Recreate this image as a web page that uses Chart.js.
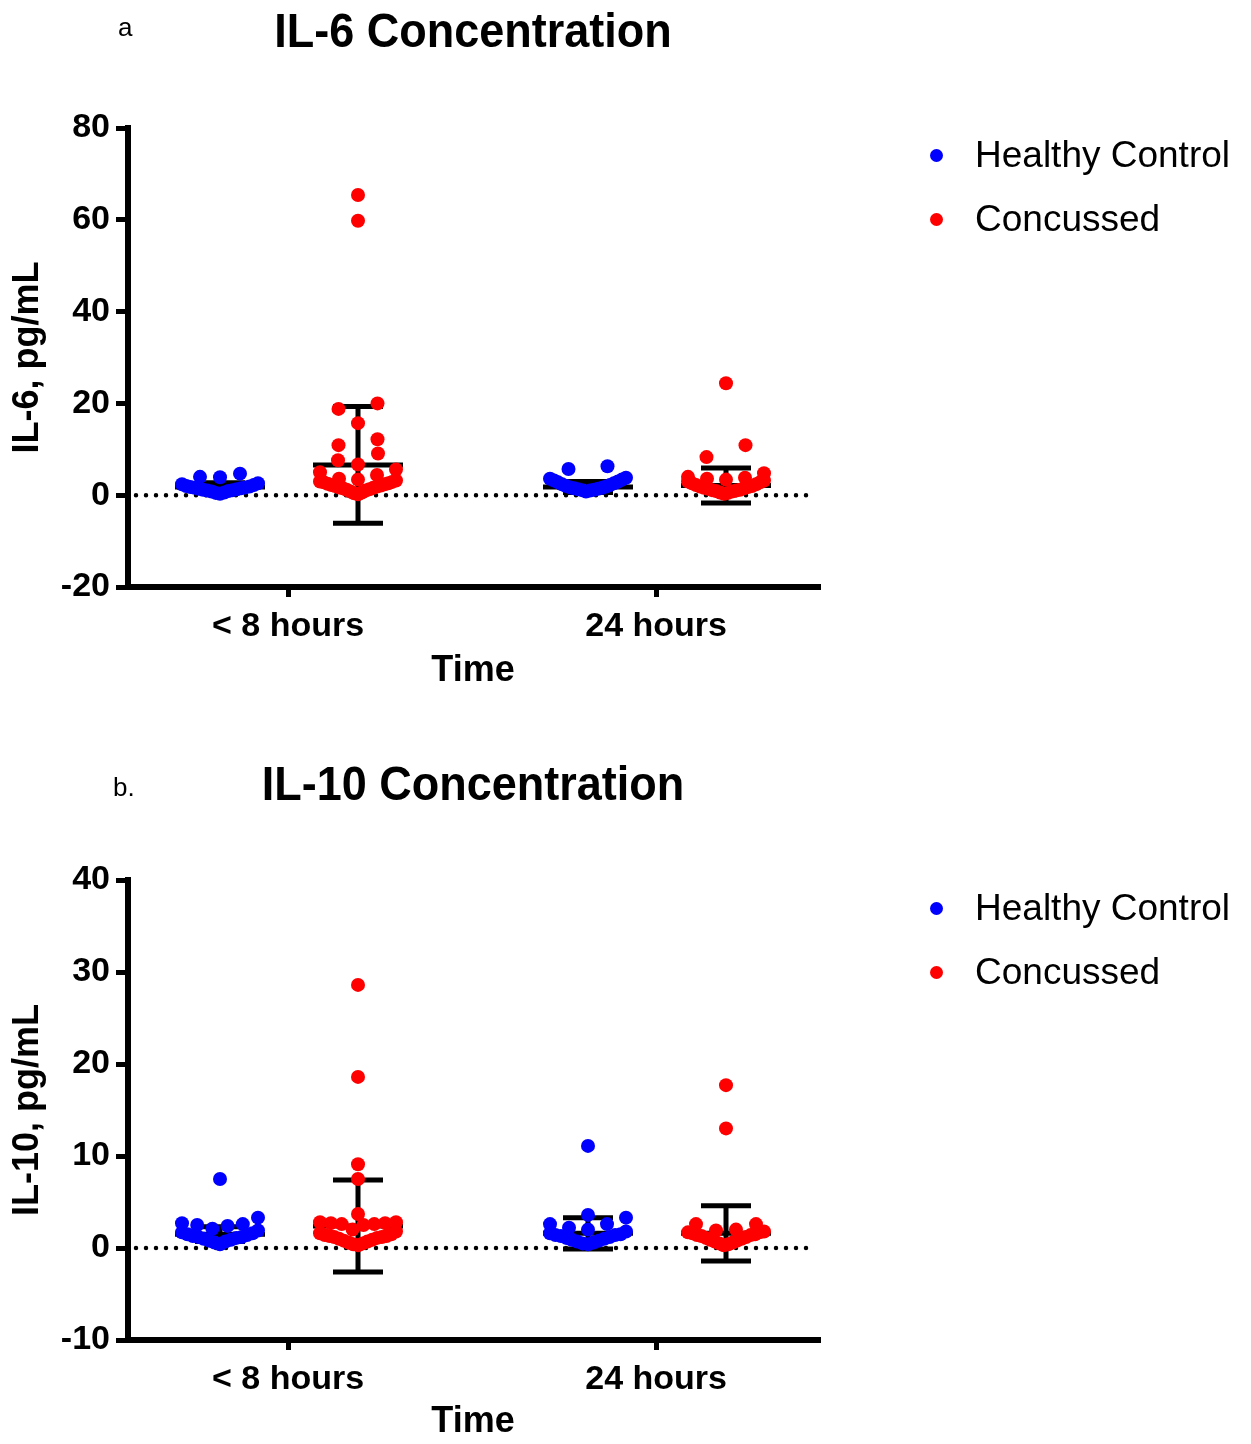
<!DOCTYPE html>
<html>
<head>
<meta charset="utf-8">
<title>IL-6 and IL-10 Concentration</title>
<script src="https://cdn.jsdelivr.net/npm/chart.js@4.4.1/dist/chart.umd.min.js"></script>
<style>
  body { margin: 0; background: #fff; font-family: "Liberation Sans", Arial, sans-serif; color: #000; }
  #page { position: relative; width: 1251px; height: 1444px; overflow: hidden; }
  .panel { position: absolute; left: 0; width: 1251px; }
  .panel canvas { position: absolute; left: 0; top: 0; }
  .letter { position: absolute; font-size: 26px; line-height: 1; transform: translateY(-50%); }
  .title { position: absolute; left: 473px; font-size: 45px; font-weight: bold; line-height: 1;
           transform: translate(-50%, -50%) scaleY(1.08); white-space: nowrap; }
  .legend { position: absolute; left: 930px; font-size: 37px; }
  .legend div { height: 64px; display: flex; align-items: center; white-space: nowrap; }
  .legend .dot { width: 13px; height: 13px; border-radius: 50%; margin-right: 32px; flex: none; }
</style>
</head>
<body>
<div id="page">
  <div class="panel" style="top:0;height:693px"><canvas id="il6Chart" width="1251" height="693"></canvas></div>
  <div class="panel" style="top:722px;height:722px"><canvas id="il10Chart" width="1251" height="722"></canvas></div>

  <div class="letter" style="left:118px;top:27px">a</div>
  <div class="title" style="top:30px">IL-6 Concentration</div>
  <div class="legend" style="top:123px">
    <div><span class="dot" style="background:#0000ff"></span>Healthy Control</div>
    <div><span class="dot" style="background:#ff0000"></span>Concussed</div>
  </div>

  <div class="letter" style="left:113px;top:787px">b.</div>
  <div class="title" style="top:783px">IL-10 Concentration</div>
  <div class="legend" style="top:876px">
    <div><span class="dot" style="background:#0000ff"></span>Healthy Control</div>
    <div><span class="dot" style="background:#ff0000"></span>Concussed</div>
  </div>
</div>

<script>
const timeLabels = ['< 8 hours', '24 hours'];
const seriesNames = ['Healthy Control', 'Concussed'];

// IL-6, pg/mL
const il6HealthyEarly = [4.7, 4.0, 3.9, 2.6, 2.4, 2.2, 2.0, 1.9, 1.8, 1.7, 1.6, 1.5, 1.4, 1.3, 1.2, 1.1, 1.0, 0.9, 0.8, 0.6, 0.5, 0.3];
const il6HealthyLate = [6.3, 5.7, 3.8, 3.6, 3.4, 3.2, 3.0, 2.8, 2.6, 2.4, 2.2, 2.0, 1.9, 1.7, 1.6, 1.5, 1.4, 1.3, 1.2, 1.1, 1.0, 0.8];
const il6ConcussedEarly = [65.4, 59.8, 20.0, 18.8, 15.7, 12.2, 10.9, 9.1, 7.6, 6.7, 5.6, 5.0, 4.4,
  3.6, 3.4, 3.2, 3.0, 2.9, 2.8, 2.6, 2.5, 2.4, 2.2, 2.1, 2.0, 1.9, 1.7, 1.6, 1.5, 1.3, 1.2, 1.0, 0.8, 0.6, 0.4, 0.2];
const il6ConcussedLate = [24.4, 10.9, 8.3, 4.8, 4.0, 3.8, 3.6, 3.4, 3.2, 3.0, 2.8, 2.6, 2.4, 2.2, 2.0, 1.9,
  1.8, 1.6, 1.5, 1.4, 1.2, 1.1, 1.0, 0.9, 0.8, 0.6, 0.5, 0.3];
const il6HealthyMean = [1.8, 1.8];
const il6HealthySd = [0.9, 1.2];
const il6ConcussedMean = [6.6, 2.1];
const il6ConcussedSd = [12.7, 3.8];

// IL-10, pg/mL
const il10HealthyEarly = [7.5, 3.3, 2.7, 2.6, 2.5, 2.4, 2.1, 1.9, 1.7, 1.6, 1.5, 1.4, 1.3, 1.2, 1.2, 1.1, 1.0, 0.9, 0.8, 0.7, 0.6, 0.4];
const il10HealthyLate = [11.1, 3.6, 3.3, 2.6, 2.6, 2.2, 2.0, 1.8, 1.6, 1.5, 1.4, 1.4, 1.3, 1.2, 1.1, 1.0, 0.9, 0.8, 0.7, 0.6, 0.5, 0.4];
const il10ConcussedEarly = [28.6, 18.6, 9.1, 7.5, 3.7, 2.8, 2.8, 2.7, 2.7, 2.6, 2.6, 2.5, 2.0, 1.8, 1.6, 1.5,
  1.4, 1.3, 1.3, 1.2, 1.2, 1.1, 1.0, 0.9, 0.8, 0.7, 0.6, 0.5, 0.4, 0.3];
const il10ConcussedLate = [17.7, 13.0, 2.6, 2.6, 2.0, 1.9, 1.8, 1.7, 1.7, 1.6, 1.5, 1.4, 1.4, 1.3, 1.2, 1.1,
  1.0, 0.9, 0.8, 0.7, 0.6, 0.5, 0.4, 0.3];
const il10HealthyMean = [1.5, 1.6];
const il10HealthySd = [0.8, 1.7];
const il10ConcussedMean = [2.4, 1.6];
const il10ConcussedSd = [5.0, 3.0];

// y axis ranges
const il6Ticks = [-20, 80, 20];
const il10Ticks = [-10, 40, 10];

Chart.defaults.font.family = '"Liberation Sans", Arial, sans-serif';
Chart.defaults.color = '#000';

// Dot-plot layout: values are cut into bands one dot high (starting from the
// lowest); each band is spread sideways, lowest value in the middle and the
// rest alternating outwards. Crowded bands get squeezed into maxWidth,
// lone pairs sit well apart.
function bandOffsets(py, band, maxWidth) {
  const order = py.map((p, i) => i).sort((a, b) => py[b] - py[a]);
  const out = new Array(py.length).fill(0);
  let start = 0;
  while (start < order.length) {
    const base = py[order[start]];
    let end = start;
    while (end < order.length && base - py[order[end]] < band) end++;
    const n = end - start;
    const step = n === 2 ? 39 : n > 2 ? Math.min(20, maxWidth / (n - 1)) : 0;
    for (let j = 0; j < n; j++) {
      let slot;
      if (n % 2) slot = j === 0 ? 0 : (j % 2 ? -1 : 1) * Math.ceil(j / 2);
      else slot = (j % 2 ? 1 : -1) * (Math.floor(j / 2) + 0.5);
      out[order[start + j]] = slot * step;
    }
    start = end;
  }
  return out;
}

function buildPanel(canvasId, cfg) {
  const series = [
    { label: seriesNames[0], color: '#0000ff', values: cfg.healthy, mean: cfg.healthyMean, sd: cfg.healthySd, shift: -0.185 },
    { label: seriesNames[1], color: '#ff0000', values: cfg.concussed, mean: cfg.concussedMean, sd: cfg.concussedSd, shift: 0.19 }
  ];

  const datasets = series.map(s => ({
    label: s.label,
    data: s.values.flatMap((vals, t) => vals.map(v => ({ x: t + s.shift, y: v }))),
    backgroundColor: s.color,
    borderWidth: 0,
    pointRadius: 7,
    pointHoverRadius: 7
  }));

  // dotted line at zero, then mean +/- SD bars, both under the dots
  const underlay = {
    id: 'underlay',
    beforeDatasetsDraw(chart) {
      const { ctx, chartArea, scales: { x, y } } = chart;
      ctx.save();
      ctx.strokeStyle = '#000';
      ctx.lineCap = 'round';
      ctx.lineWidth = 4.5;
      ctx.setLineDash([0, 10]);
      const y0 = y.getPixelForValue(0);
      ctx.beginPath();
      ctx.moveTo(chartArea.left + 8, y0);
      ctx.lineTo(chartArea.right - 4, y0);
      ctx.stroke();

      ctx.setLineDash([]);
      ctx.lineCap = 'butt';
      ctx.lineWidth = 5;
      series.forEach(s => {
        s.mean.forEach((m, t) => {
          const cx = x.getPixelForValue(t + s.shift);
          const ym = y.getPixelForValue(m);
          const yt = y.getPixelForValue(m + s.sd[t]);
          const yb = y.getPixelForValue(m - s.sd[t]);
          ctx.beginPath();
          ctx.moveTo(cx, yt); ctx.lineTo(cx, yb);
          ctx.moveTo(cx - 25, yt); ctx.lineTo(cx + 25, yt);
          ctx.moveTo(cx - 25, yb); ctx.lineTo(cx + 25, yb);
          ctx.moveTo(cx - 45, ym); ctx.lineTo(cx + 45, ym);
          ctx.stroke();
        });
      });
      ctx.restore();
    }
  };

  const chart = new Chart(document.getElementById(canvasId), {
    type: 'scatter',
    data: { datasets },
    options: {
      responsive: false,
      animation: false,
      events: [],
      devicePixelRatio: 1,
      layout: { padding: { top: cfg.top, right: 433, bottom: 0, left: 0 } },
      plugins: { legend: { display: false }, tooltip: { enabled: false } },
      scales: {
        x: {
          type: 'linear',
          min: -0.435,
          max: 1.44,
          afterBuildTicks: scale => { scale.ticks = timeLabels.map((l, i) => ({ value: i })); },
          afterFit: scale => { scale.height = cfg.xHeight; },
          ticks: {
            callback: v => timeLabels[v],
            autoSkip: false,
            maxRotation: 0,
            padding: 9,
            font: { size: 34, weight: 'bold' }
          },
          grid: { drawOnChartArea: false, tickLength: 10, lineWidth: 5, color: '#000' },
          border: { color: '#000', width: 6 },
          title: { display: true, text: 'Time', font: { size: 36, weight: 'bold' }, padding: { top: 4, bottom: 0 } }
        },
        y: {
          min: cfg.ticks[0],
          max: cfg.ticks[1],
          afterFit: scale => { scale.width = 128; },
          ticks: { stepSize: cfg.ticks[2], padding: 6, font: { size: 34, weight: 'bold' } },
          grid: { drawOnChartArea: false, tickLength: 12, lineWidth: 5, color: '#000' },
          border: { color: '#000', width: 6 },
          title: { display: true, text: cfg.yTitle, font: { size: 36, weight: 'bold' }, padding: { top: 6, bottom: 0 } }
        }
      }
    },
    plugins: [underlay]
  });

  // spread each group sideways now that the scales are laid out
  const xs = chart.scales.x, ys = chart.scales.y;
  chart.data.datasets.forEach((ds, d) => {
    const s = series[d];
    let k = 0;
    s.values.forEach((vals, t) => {
      const cx = xs.getPixelForValue(t + s.shift);
      const offs = bandOffsets(vals.map(v => ys.getPixelForValue(v)), 14, 76);
      offs.forEach((dx, i) => { ds.data[k + i].x = xs.getValueForPixel(cx + dx); });
      k += vals.length;
    });
  });
  chart.update('none');
  return chart;
}

document.addEventListener('DOMContentLoaded', () => {
  buildPanel('il6Chart', {
    top: 128,
    xHeight: 106,
    ticks: il6Ticks,
    yTitle: 'IL-6, pg/mL',
    healthy: [il6HealthyEarly, il6HealthyLate],
    concussed: [il6ConcussedEarly, il6ConcussedLate],
    healthyMean: il6HealthyMean, healthySd: il6HealthySd,
    concussedMean: il6ConcussedMean, concussedSd: il6ConcussedSd
  });

  buildPanel('il10Chart', {
    top: 158,
    xHeight: 104,
    ticks: il10Ticks,
    yTitle: 'IL-10, pg/mL',
    healthy: [il10HealthyEarly, il10HealthyLate],
    concussed: [il10ConcussedEarly, il10ConcussedLate],
    healthyMean: il10HealthyMean, healthySd: il10HealthySd,
    concussedMean: il10ConcussedMean, concussedSd: il10ConcussedSd
  });
});
</script>
</body>
</html>
